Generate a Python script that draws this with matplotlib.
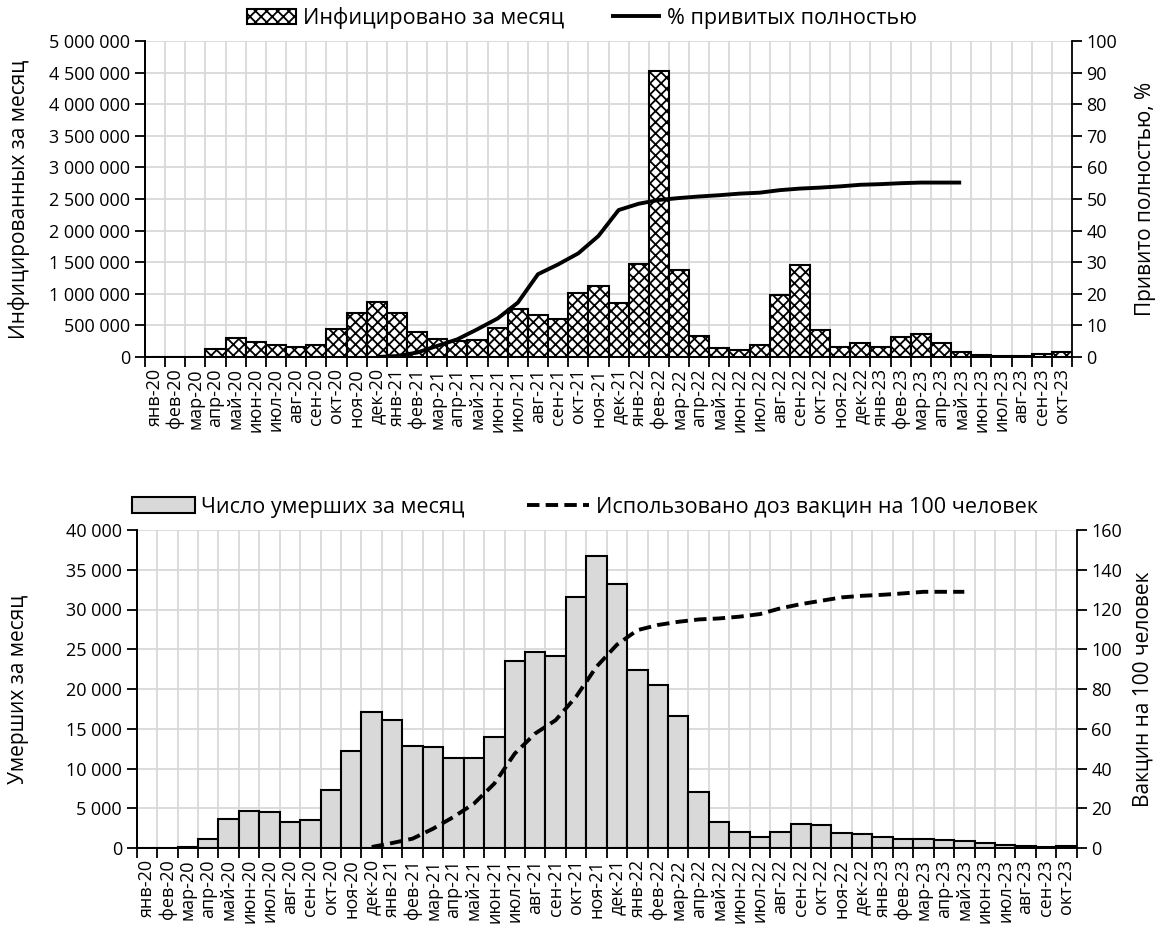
import numpy as np
import matplotlib
matplotlib.use("Agg")
import matplotlib.pyplot as plt
from matplotlib.ticker import FuncFormatter, MultipleLocator

plt.rcParams['font.family'] = ['Open Sans', 'DejaVu Sans']
plt.rcParams['hatch.linewidth'] = 1.3

nan = np.nan

months = ['янв-20', 'фев-20', 'мар-20', 'апр-20', 'май-20', 'июн-20', 'июл-20', 'авг-20',
          'сен-20', 'окт-20', 'ноя-20', 'дек-20',
          'янв-21', 'фев-21', 'мар-21', 'апр-21', 'май-21', 'июн-21', 'июл-21', 'авг-21',
          'сен-21', 'окт-21', 'ноя-21', 'дек-21',
          'янв-22', 'фев-22', 'мар-22', 'апр-22', 'май-22', 'июн-22', 'июл-22', 'авг-22',
          'сен-22', 'окт-22', 'ноя-22', 'дек-22',
          'янв-23', 'фев-23', 'мар-23', 'апр-23', 'май-23', 'июн-23', 'июл-23', 'авг-23',
          'сен-23', 'окт-23']

# infected per month
infected = [0, 0, 5000, 120000, 306000, 243000, 190000, 158000, 185000, 448000, 690000, 870000,
            690000, 395000, 290000, 253000, 270000, 464000, 754000, 660000, 607000, 1018000, 1123000, 850000,
            1477000, 4525000, 1377000, 332000, 148000, 105000, 185000, 976000, 1450000, 422000, 158000, 216000,
            158000, 322000, 370000, 216000, 80000, 37000, 15000, 10000, 40000, 80000]

# % fully vaccinated
vacc_full = [nan] * 11 + [0, 0.3, 1.4, 3.5, 5.6, 8.8, 12.2, 17.2, 26.2, 29.3, 32.8, 38.3, 46.5,
                          48.5, 49.7, 50.3, 50.8, 51.2, 51.7, 52.0, 52.8, 53.3, 53.6, 54.0, 54.5,
                          54.7, 55.0, 55.2, 55.2, 55.2] + [nan] * 5

# deaths per month
deaths = [0, 0, 100, 1175, 3695, 4660, 4490, 3230, 3570, 7350, 12260, 17130,
          16080, 12800, 12720, 11290, 11380, 14020, 23470, 24600, 24140, 31530, 36730, 33250,
          22330, 20450, 16620, 7010, 3230, 2015, 1340, 2015, 3020, 2940, 1890, 1720,
          1385, 1090, 1175, 1050, 840, 590, 336, 210, 84, 210]

# vaccine doses per 100 people
doses = [nan] * 11 + [0.5, 2.5, 4.7, 9.7, 15.6, 22.3, 32.4, 47.5, 57.6, 64.3, 76.1, 91.2, 102.3,
                      109.6, 112.2, 113.8, 115.0, 115.5, 116.4, 117.7, 120.6, 122.7, 124.4, 126.1, 126.9,
                      127.4, 128.1, 128.9, 128.9, 128.9] + [nan] * 5

x = np.arange(len(months))
W, H = 1159, 931
TICK_FS = 13
LAB_FS = 15
LEG_FS = 15.5
GRID = '#d9d9d9'

space_fmt = FuncFormatter(lambda v, p: f"{v:,.0f}".replace(",", " "))


def style_axes(ax, ax2):
    ax.set_xlim(-0.5, len(months) - 0.5)
    ax.set_xticks(x)
    ax.set_xticklabels(months, rotation=90, fontsize=TICK_FS)
    ax.set_xticks(np.arange(-0.5, len(months)), minor=True)
    ax.tick_params(axis='x', which='major', length=0, pad=8)
    ax.tick_params(axis='x', which='minor', length=7, width=1.3, direction='out')
    ax.grid(True, which='minor', axis='x', color=GRID, lw=1.3)
    ax.grid(True, which='major', axis='y', color=GRID, lw=1.3)
    ax.set_axisbelow(True)
    ax.tick_params(axis='y', labelsize=TICK_FS, length=7, width=1.3)
    ax2.tick_params(axis='y', labelsize=TICK_FS, length=7, width=1.3)
    ax.yaxis.set_major_formatter(space_fmt)
    for a in (ax, ax2):
        a.spines['top'].set_visible(False)
        for s in ('left', 'right', 'bottom'):
            a.spines[s].set_linewidth(1.3)
    ax.spines['right'].set_visible(False)


fig = plt.figure(figsize=(W / 100, H / 100), dpi=100)

# top chart
ax1 = fig.add_axes([145 / W, 1 - 357 / H, 927 / W, 316 / H])
ax1r = ax1.twinx()
b1 = ax1.bar(x, infected, width=1.0, color='white', edgecolor='black', hatch='xxx',
             linewidth=1.5, label='Инфицировано за месяц')
l1, = ax1r.plot(x, vacc_full, color='black', lw=2.8, solid_capstyle='butt',
                label='% привитых полностью')
ax1.set_ylim(0, 5000000)
ax1.yaxis.set_major_locator(MultipleLocator(500000))
ax1r.set_ylim(0, 100)
ax1r.yaxis.set_major_locator(MultipleLocator(10))
style_axes(ax1, ax1r)
ax1.set_ylabel('Инфицированных за месяц', fontsize=LAB_FS, va='center')
ax1.yaxis.set_label_coords((19 - 145) / 927, 0.5)
ax1r.set_ylabel('Привито полностью, %', fontsize=LAB_FS, va='center')
ax1r.yaxis.set_label_coords((1145 - 145) / 927, 0.5)
fig.legend(handles=[b1, l1], loc='center', bbox_to_anchor=(582 / W, 1 - 18 / H), ncol=2,
           frameon=False, fontsize=LEG_FS, handlelength=2.3, handleheight=0.7,
           handletextpad=0.3, columnspacing=2.2, borderaxespad=0)

# bottom chart
ax2 = fig.add_axes([136.7 / W, 1 - 848 / H, 940 / W, 318 / H])
ax2r = ax2.twinx()
b2 = ax2.bar(x, deaths, width=1.0, color='#d9d9d9', edgecolor='black', linewidth=1.5,
             label='Число умерших за месяц')
l2, = ax2r.plot(x, doses, color='black', lw=2.8, linestyle=(0, (3.2, 1.6)),
                label='Использовано доз вакцин на 100 человек')
ax2.set_ylim(0, 40000)
ax2.yaxis.set_major_locator(MultipleLocator(5000))
ax2r.set_ylim(0, 160)
ax2r.yaxis.set_major_locator(MultipleLocator(20))
style_axes(ax2, ax2r)
ax2.set_ylabel('Умерших за месяц', fontsize=LAB_FS, va='center')
ax2.yaxis.set_label_coords((19 - 136.7) / 940, 0.5)
ax2r.set_ylabel('Вакцин на 100 человек', fontsize=LAB_FS, va='center')
ax2r.yaxis.set_label_coords((1143 - 136.7) / 940, 0.5)
fig.legend(handles=[b2, l2], loc='center', bbox_to_anchor=(585 / W, 1 - 507 / H), ncol=2,
           frameon=False, fontsize=LEG_FS, handlelength=2.9, handleheight=0.7,
           handletextpad=0.3, columnspacing=2.9, borderaxespad=0)

fig.savefig('out.png', dpi=100)
